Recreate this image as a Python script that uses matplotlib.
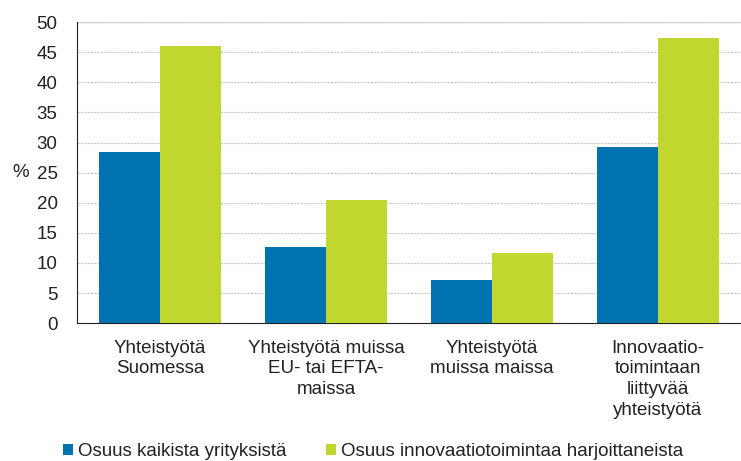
import numpy as np
import matplotlib.pyplot as plt

plt.rcParams['font.family'] = ['Liberation Sans', 'DejaVu Sans']

categories = ["Yhteistyötä\nSuomessa", "Yhteistyötä muissa\nEU- tai EFTA-\nmaissa",
              "Yhteistyötä\nmuissa maissa", "Innovaatio-\ntoimintaan\nliittyvää\nyhteistyötä"]
kaikki = [28.4, 12.6, 7.1, 29.2]
innovoivat = [46.0, 20.4, 11.6, 47.3]
series_names = ["Osuus kaikista yrityksistä", "Osuus innovaatiotoimintaa harjoittaneista"]

blue = "#0072b0"
green = "#c1d730"
txt = "#222222"

fig = plt.figure(figsize=(7.41, 4.61), dpi=100)
ax = fig.add_axes([0.104, 0.299, 0.896, 0.653])

x = np.arange(len(categories))
w = 0.37
ax.bar(x - w / 2, kaikki, w, color=blue, label=series_names[0], zorder=3)
ax.bar(x + w / 2, innovoivat, w, color=green, label=series_names[1], zorder=3)

ax.set_xlim(-0.5, 3.5)
ax.set_ylim(0, 50)
ax.set_yticks(range(0, 51, 5))
ax.set_xticks(x)
ax.set_xticklabels(categories, fontsize=13.5, color=txt, linespacing=1.28)
ax.tick_params(axis='y', labelsize=13.5, length=0, pad=14, labelcolor=txt)
ax.tick_params(axis='x', length=0, pad=12)
ax.grid(axis='y', linestyle=(0, (2, 1)), color="#c8c8c8", linewidth=0.8, zorder=0)
ax.axhline(50, color="#d8d8d8", linewidth=1, zorder=1)
for s in ['top', 'right']:
    ax.spines[s].set_visible(False)
ax.spines['left'].set_color(txt)
ax.spines['bottom'].set_color(txt)
ax.set_ylabel("%", rotation=0, fontsize=13.5, color=txt, va='center')
ax.yaxis.set_label_coords(-0.085, 0.5)

fig.legend(loc='lower left', bbox_to_anchor=(0.062, -0.035), ncol=2, frameon=False,
           fontsize=13.5, handlelength=0.55, handleheight=0.55, handletextpad=0.25,
           columnspacing=2.1, labelcolor=txt)

fig.savefig("out.png", dpi=100)
